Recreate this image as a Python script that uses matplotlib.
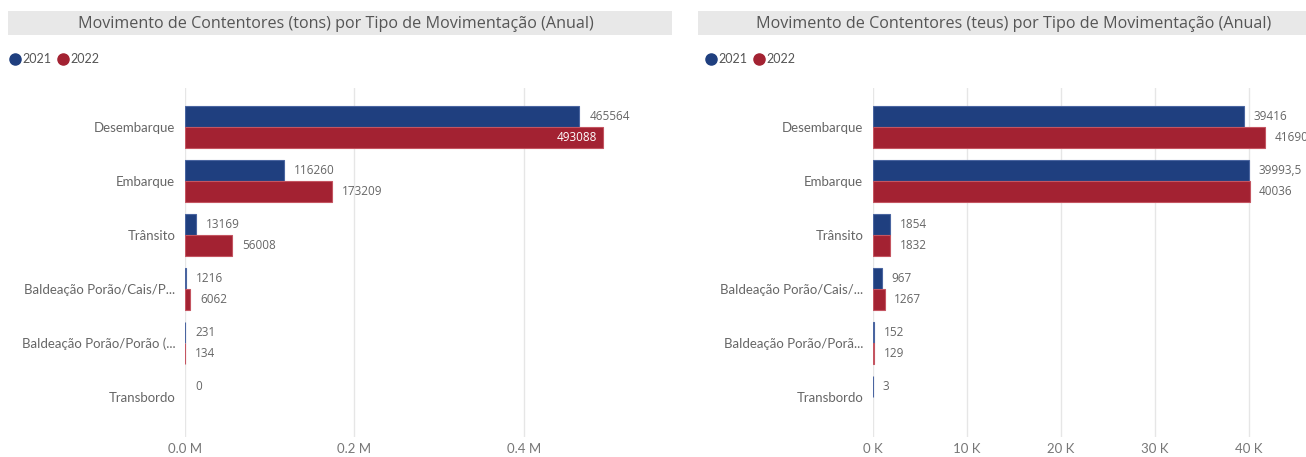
import numpy as np
import matplotlib.pyplot as plt
from matplotlib.patches import Rectangle
from matplotlib.lines import Line2D
from matplotlib.ticker import FuncFormatter

# --- data ---------------------------------------------------------------------
cats_tons = ["Desembarque", "Embarque", "Trânsito", "Baldeação Porão/Cais/P...",
             "Baldeação Porão/Porão (...", "Transbordo"]
tons_2021 = [465564, 116260, 13169, 1216, 231, 0]
tons_2022 = [493088, 173209, 56008, 6062, 134, np.nan]

cats_teus = ["Desembarque", "Embarque", "Trânsito", "Baldeação Porão/Cais/...",
             "Baldeação Porão/Porã...", "Transbordo"]
teus_2021 = [39416, 39993.5, 1854, 967, 152, 3]
teus_2022 = [41690, 40036, 1832, 1267, 129, np.nan]

years = ["2021", "2022"]
titles = ["Movimento de Contentores (tons) por Tipo de Movimentação (Anual)",
          "Movimento de Contentores (teus) por Tipo de Movimentação (Anual)"]

BLUE = "#1F3F7F"
RED = "#A32232"
EDGE = {BLUE: "#4A65A0", RED: "#C45561"}
TXT = "#666666"
FONT = "Open Sans"
CAT_FONT = "Lato"

W, H = 1306, 457
fig = plt.figure(figsize=(W / 100, H / 100), dpi=100)
fig.patch.set_facecolor("white")


def px_axes(x0, x1, y0, y1):
    return fig.add_axes([x0 / W, 1 - y1 / H, (x1 - x0) / W, (y1 - y0) / H])


def fmt_label(v):
    if float(v).is_integer():
        return f"{int(v)}"
    return f"{v}".replace(".", ",")


def panel(ax, cats, v21, v22, xmax, ticks, tickfmt, inside=()):
    y = np.arange(len(cats))
    h = 0.39
    for vals, off, col in ((v21, -h / 2, BLUE), (v22, h / 2, RED)):
        vals = np.asarray(vals, dtype=float)
        ok = ~np.isnan(vals)
        lw = np.where(vals[ok] > 0, 0.8, 0.0)
        ax.barh(y[ok] + off, vals[ok], height=h, color=col,
                edgecolor=EDGE[col], linewidth=lw, zorder=3)
        for yi, v in zip(y[ok], vals[ok]):
            lab = fmt_label(v)
            if lab in inside:
                ax.text(v - xmax * 0.012, yi + off, lab, ha="right", va="center",
                        color="white", fontsize=8.5, family=FONT, zorder=4)
            else:
                ax.text(v + xmax * 0.022, yi + off, lab, ha="left", va="center",
                        color=TXT, fontsize=8.5, family=FONT, zorder=4)
    ax.set_ylim(5.74, -0.72)
    ax.set_xlim(0, xmax)
    ax.set_yticks(y)
    ax.set_yticklabels(cats, family=CAT_FONT, fontsize=9.5, color=TXT)
    ax.set_xticks(ticks)
    ax.xaxis.set_major_formatter(FuncFormatter(tickfmt))
    for lab in ax.get_xticklabels():
        lab.set_family(CAT_FONT)
        lab.set_fontsize(9.5)
        lab.set_color("#777777")
    ax.tick_params(axis="y", length=0, pad=7)
    ax.tick_params(axis="x", length=0, pad=4)
    for s in ax.spines.values():
        s.set_visible(False)
    ax.grid(axis="x", color="#E6E6E6", linewidth=1, zorder=0)
    ax.set_axisbelow(True)


ax1 = px_axes(185, 640, 88, 437)
panel(ax1, cats_tons, tons_2021, tons_2022, 537000, [0, 200000, 400000],
      lambda v, p: f"{v / 1e6:.1f} M", inside=("493088",))

ax2 = px_axes(873, 1300, 88, 437)
panel(ax2, cats_teus, teus_2021, teus_2022, 45400, [0, 10000, 20000, 30000, 40000],
      lambda v, p: f"{int(v / 1000)} K")

# title bars and legends
for (bx0, bx1), tx, title, lx in (((8, 672), 336, titles[0], 15),
                                  ((698, 1306), 1014, titles[1], 711)):
    fig.patches.append(Rectangle((bx0 / W, 1 - 35 / H), (bx1 - bx0) / W, 24 / H,
                                 transform=fig.transFigure, facecolor="#E8E8E8",
                                 edgecolor="none", zorder=0))
    fig.text(tx / W, 1 - 23.5 / H, title, ha="center", va="center",
             fontsize=11.6, color="#555555", family=FONT)
    for k, (yr, col) in enumerate(zip(years, (BLUE, RED))):
        cx = lx + k * 48
        fig.add_artist(Line2D([cx / W], [1 - 59 / H], marker="o", markersize=8,
                              color=col, linestyle="none", transform=fig.transFigure))
        fig.text((cx + 7) / W, 1 - 59 / H, yr, ha="left", va="center",
                 fontsize=9, color="#555555", family=CAT_FONT)

fig.savefig("out.png", dpi=100)
